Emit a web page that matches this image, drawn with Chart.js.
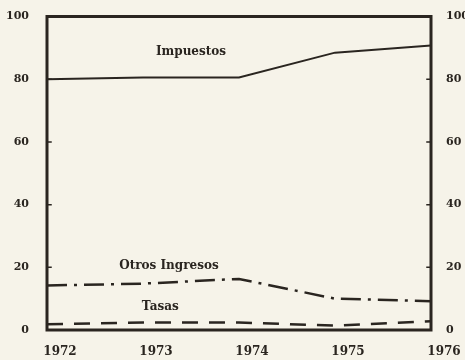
<!DOCTYPE html>
<html>
<head>
<meta charset="utf-8">
<script src="https://cdn.jsdelivr.net/npm/chart.js@4"></script>
<style>
  html, body { margin: 0; padding: 0; background: #f6f3e9; }
  #wrap { width: 465px; height: 360px; }
</style>
</head>
<body>
<div id="wrap"><canvas id="chart" width="465" height="360"></canvas></div>
<script>
const years = [1972, 1973, 1974, 1975, 1976];
const impuestos = [80, 80.6, 80.6, 88.5, 90.8];
const otrosIngresos = [14.2, 14.8, 16.3, 10, 9.2];
const tasas = [1.8, 2.4, 2.4, 1.4, 2.8];
const yTicks = [0, 20, 40, 60, 80, 100];

const ink = "#2a2520";

// series names written inside the plot, next to their lines
const seriesLabels = [
  { text: "Impuestos", x: 1973.5, y: 88.8 },
  { text: "Otros Ingresos", x: 1973.27, y: 20.6 },
  { text: "Tasas", x: 1973.18, y: 7.5 },
];

const framePlugin = {
  id: "frame",
  afterDatasetsDraw(chart) {
    const { ctx, chartArea: a, scales } = chart;
    ctx.save();
    ctx.strokeStyle = ink;
    ctx.lineCap = "square";
    ctx.lineWidth = 3;
    ctx.beginPath();
    ctx.moveTo(a.left, a.bottom);
    ctx.lineTo(a.left, a.top);
    ctx.lineTo(a.right, a.top);
    ctx.lineTo(a.right, a.bottom);
    ctx.lineTo(a.left, a.bottom);
    ctx.stroke();

    // small inward ticks on both sides
    ctx.lineWidth = 1.5;
    yTicks.forEach((v) => {
      if (v === 0 || v === 100) return;
      const y = scales.y.getPixelForValue(v);
      ctx.beginPath();
      ctx.moveTo(a.left, y);
      ctx.lineTo(a.left + 4, y);
      ctx.moveTo(a.right, y);
      ctx.lineTo(a.right - 4, y);
      ctx.stroke();
    });

    ctx.fillStyle = ink;
    ctx.font = "bold 12px 'DejaVu Serif'";
    ctx.textAlign = "center";
    ctx.textBaseline = "middle";
    seriesLabels.forEach((l) => {
      ctx.fillText(l.text, scales.x.getPixelForValue(l.x), scales.y.getPixelForValue(l.y));
    });
    ctx.restore();
  },
};

const toPoints = (arr) => arr.map((v, i) => ({ x: years[i], y: v }));

new Chart(document.getElementById("chart").getContext("2d"), {
  type: "line",
  data: {
    datasets: [
      {
        label: "Impuestos",
        data: toPoints(impuestos),
        borderColor: ink,
        borderWidth: 2,
        pointRadius: 0,
        tension: 0,
      },
      {
        label: "Otros Ingresos",
        data: toPoints(otrosIngresos),
        borderColor: ink,
        borderWidth: 2.5,
        borderDash: [20, 7, 3, 7],
        pointRadius: 0,
        tension: 0,
      },
      {
        label: "Tasas",
        data: toPoints(tasas),
        borderColor: ink,
        borderWidth: 2.5,
        borderDash: [16, 11],
        pointRadius: 0,
        tension: 0,
      },
    ],
  },
  options: {
    responsive: false,
    animation: false,
    layout: { padding: { top: 13, left: 0, right: 0, bottom: 0 } },
    plugins: { legend: { display: false }, tooltip: { enabled: false } },
    scales: {
      x: {
        type: "linear",
        min: 1972,
        max: 1976,
        grid: { display: false },
        border: { display: false },
        afterBuildTicks: (s) => { s.ticks = years.map((v) => ({ value: v })); },
        afterFit: (s) => { s.height = 30; },
        ticks: {
          color: ink,
          font: { family: "DejaVu Serif", weight: "bold", size: 12 },
          padding: 7,
          labelOffset: 13,
          maxRotation: 0,
          callback: (v) => String(v),
        },
      },
      y: {
        position: "left",
        min: 0,
        max: 100,
        grid: { display: false },
        border: { display: false },
        afterBuildTicks: (s) => { s.ticks = yTicks.map((v) => ({ value: v })); },
        afterFit: (s) => { s.width = 47; },
        ticks: {
          color: ink,
          font: { family: "DejaVu Serif", weight: "bold", size: 11 },
          padding: 10,
        },
      },
      y2: {
        position: "right",
        min: 0,
        max: 100,
        grid: { display: false },
        border: { display: false },
        afterBuildTicks: (s) => { s.ticks = yTicks.map((v) => ({ value: v })); },
        afterFit: (s) => { s.width = 34; },
        ticks: {
          color: ink,
          font: { family: "DejaVu Serif", weight: "bold", size: 11 },
          padding: 7,
        },
      },
    },
  },
  plugins: [framePlugin],
});
</script>
</body>
</html>
